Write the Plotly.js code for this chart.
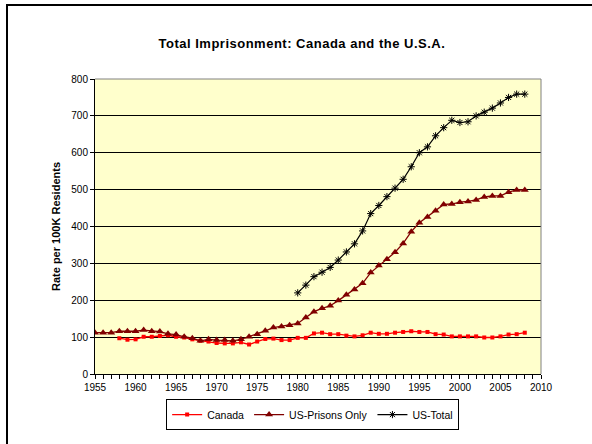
<!DOCTYPE html>
<html>
<head>
<meta charset="utf-8">
<script src="https://cdn.plot.ly/plotly-3.0.1.min.js"></script>
<style>
  html, body { margin: 0; padding: 0; background: #fff; overflow: hidden; }
  #chart { width: 592px; height: 444px; }
  #chart .gtitle { letter-spacing: 0.5px; }
  #frame { position: absolute; left: 6px; top: 4px; width: 700px; height: 600px;
           border-left: 2px solid #000; border-top: 2px solid #000; pointer-events: none; }
</style>
</head>
<body>
<div id="chart"></div>
<div id="frame"></div>
<script>
// Years
var canadaYears = [1958,1959,1960,1961,1962,1963,1964,1965,1966,1967,1968,1969,1970,1971,1972,1973,1974,1975,1976,1977,1978,1979,1980,1981,1982,1983,1984,1985,1986,1987,1988,1989,1990,1991,1992,1993,1994,1995,1996,1997,1998,1999,2000,2001,2002,2003,2004,2005,2006,2007,2008];
var canadaRates = [97,93,94,101,101,103,105,101,99,94,90,88,84,83,83,86,80,88,95,96,92,92,98,98,110,112,108,108,104,102,105,112,109,109,112,114,116,114,114,108,107,102,102,102,102,99,99,102,107,108,112];

var usPrisonYears = [1955,1956,1957,1958,1959,1960,1961,1962,1963,1964,1965,1966,1967,1968,1969,1970,1971,1972,1973,1974,1975,1976,1977,1978,1979,1980,1981,1982,1983,1984,1985,1986,1987,1988,1989,1990,1991,1992,1993,1994,1995,1996,1997,1998,1999,2000,2001,2002,2003,2004,2005,2006,2007,2008];
var usPrisonRates = [112,112,112,116,116,116,119,116,115,109,107,101,97,90,94,92,92,90,94,101,108,117,126,129,132,137,153,169,178,185,199,215,229,246,275,294,311,330,354,386,410,426,443,460,461,466,468,472,480,483,483,493,499,499];

var usTotalYears = [1980,1981,1982,1983,1984,1985,1986,1987,1988,1989,1990,1991,1992,1993,1994,1995,1996,1997,1998,1999,2000,2001,2002,2003,2004,2005,2006,2007,2008];
var usTotalRates = [220,241,264,276,289,309,331,353,388,435,457,481,504,528,562,600,616,646,668,688,682,684,700,710,721,735,750,759,759];

var yTicks = [0,100,200,300,400,500,600,700,800];
var xTicks = [1955,1960,1965,1970,1975,1980,1985,1990,1995,2000,2005,2010];

var traces = [
  { x: canadaYears, y: canadaRates, name: 'Canada', type: 'scatter', mode: 'lines+markers',
    line: { color: '#FF0000', width: 1.3 },
    marker: { symbol: 'square', size: 4, color: '#FF0000' } },
  { x: usPrisonYears, y: usPrisonRates, name: 'US-Prisons Only', type: 'scatter', mode: 'lines+markers',
    line: { color: '#800000', width: 1.3 },
    marker: { symbol: 'triangle-up', size: 7, color: '#800000' } },
  { x: usTotalYears, y: usTotalRates, name: 'US-Total', type: 'scatter', mode: 'lines+markers',
    line: { color: '#000000', width: 1.2 },
    marker: { symbol: 'asterisk-open', size: 6, color: '#000000', line: { color: '#000000', width: 1 } } }
];

var layout = {
  width: 592, height: 444,
  margin: { l: 95, r: 51, t: 79, b: 70 },
  paper_bgcolor: '#ffffff',
  plot_bgcolor: '#FFFFCC',
  font: { family: "'Liberation Sans', Arial, sans-serif", size: 10, color: '#000' },
  title: { text: '<b>Total Imprisonment: Canada and the U.S.A.</b>', x: 0.51, xref: 'container',
           y: 0.903, yref: 'container', yanchor: 'middle', font: { size: 13, color: '#000' } },
  showlegend: true,
  legend: { orientation: 'h', x: 0.488, xanchor: 'center', y: -0.085, yanchor: 'top',
            xref: 'paper', bordercolor: '#000', borderwidth: 1, bgcolor: '#fff',
            font: { size: 10.5 }, itemwidth: 30, tracegroupgap: 0 },
  xaxis: {
    range: [1955, 2010], tickvals: xTicks, ticktext: xTicks.map(String),
    ticks: 'outside', ticklen: 4, tickcolor: '#000', showgrid: false, zeroline: false,
    showline: true, linecolor: '#000', linewidth: 1, mirror: false,
    minor: { dtick: 1, tick0: 1955, ticks: 'outside', ticklen: 4, tickcolor: '#000', showgrid: false },
    tickfont: { size: 10 }
  },
  yaxis: {
    range: [0, 800], tickvals: yTicks, ticktext: yTicks.map(String),
    ticks: 'outside', ticklen: 4, tickcolor: '#000', showgrid: true, gridcolor: '#000', gridwidth: 1,
    zeroline: false, showline: true, linecolor: '#000', linewidth: 1,
    title: { text: '<b>Rate per 100K Residents</b>', font: { size: 11 }, standoff: 8 },
    tickfont: { size: 10 }
  },
  shapes: [
    { type: 'line', xref: 'paper', yref: 'paper', x0: 0, x1: 1, y0: 1, y1: 1, line: { color: '#808080', width: 1 } },
    { type: 'line', xref: 'paper', yref: 'paper', x0: 1, x1: 1, y0: 0, y1: 1, line: { color: '#808080', width: 1 } }
  ]
};

Plotly.newPlot('chart', traces, layout, { displayModeBar: false, staticPlot: true });
</script>
</body>
</html>
